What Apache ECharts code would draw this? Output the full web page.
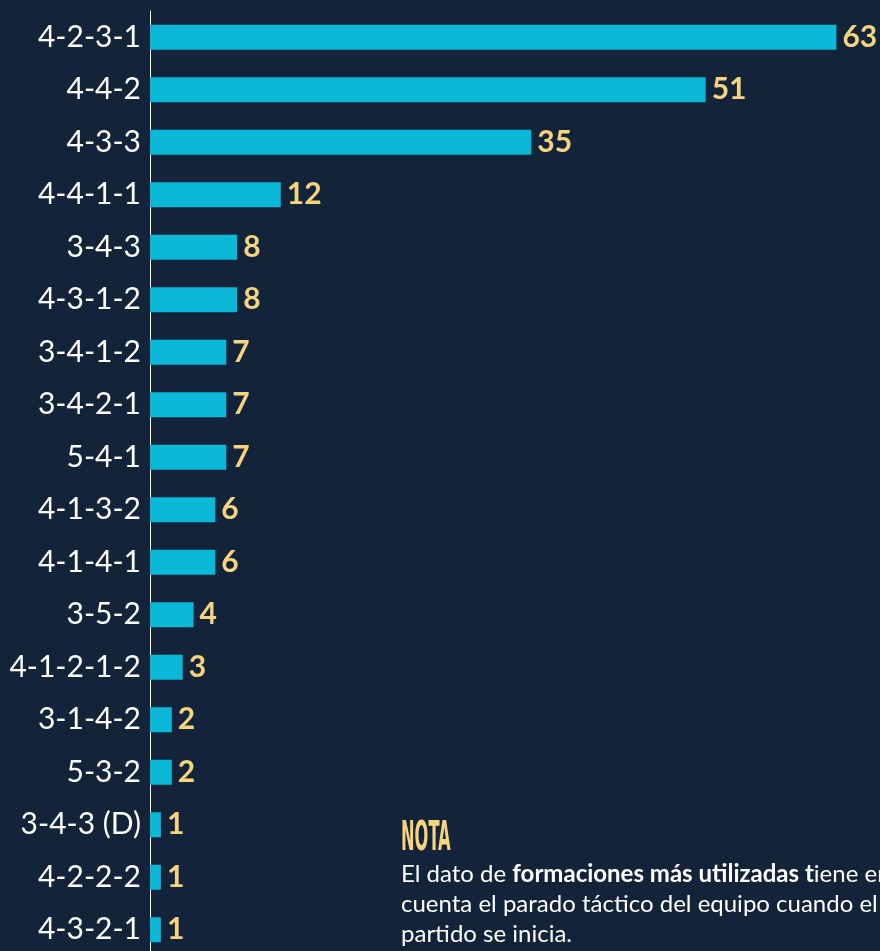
<!DOCTYPE html>
<html>
<head>
<meta charset="utf-8">
<script src="https://cdn.jsdelivr.net/npm/echarts@6/dist/echarts.min.js"></script>
<style>
  html, body { margin: 0; padding: 0; background: #13233a; }
  #chart { width: 880px; height: 951px; }
</style>
</head>
<body>
<div id="chart"></div>
<script>
  // formaciones y cantidad de partidos
  const formaciones = ['4-2-3-1', '4-4-2', '4-3-3', '4-4-1-1', '3-4-3', '4-3-1-2', '3-4-1-2', '3-4-2-1',
    '5-4-1', '4-1-3-2', '4-1-4-1', '3-5-2', '4-1-2-1-2', '3-1-4-2', '5-3-2', '3-4-3 (D)', '4-2-2-2', '4-3-2-1']
  const partidos = [63, 51, 35, 12, 8, 8, 7, 7, 7, 6, 6, 4, 3, 2, 2, 1, 1, 1]

  const chart = echarts.init(document.getElementById('chart'))
  chart.setOption({
    backgroundColor: '#13233a',
    animation: false,
    grid: { left: 150, right: 0, top: 11, height: 945, outerBoundsMode: 'none' },
    xAxis: {
      type: 'value',
      min: 0,
      max: 67,
      show: false
    },
    yAxis: {
      type: 'category',
      inverse: true,
      data: formaciones,
      axisLine: { show: true, lineStyle: { color: '#ffffff', width: 1 } },
      axisTick: { show: false },
      axisLabel: { color: '#ffffff', fontFamily: 'Lato', fontSize: 30, margin: 9 }
    },
    series: [
      {
        type: 'bar',
        data: partidos,
        barWidth: 25,
        itemStyle: { color: '#0bb8d8' },
        label: {
          show: true,
          position: 'right',
          distance: 6,
          color: '#f5d47d',
          fontFamily: 'Lato',
          fontWeight: 'bold',
          fontSize: 30
        }
      }
    ],
    graphic: [
      {
        type: 'text',
        left: 401,
        top: 819,
        scaleX: 0.44,
        style: {
          text: 'NOTA',
          fill: '#f5d47d',
          font: 'bold 41px "DejaVu Sans Condensed", "Liberation Sans Narrow", sans-serif'
        }
      },
      {
        type: 'text',
        left: 401,
        top: 859,
        style: {
          text: 'El dato de {b|formaciones más utilizadas t}iene en\ncuenta el parado táctico del equipo cuando el\npartido se inicia.',
          fill: '#ffffff',
          fontFamily: 'Lato',
          fontSize: 24,
          lineHeight: 30,
          rich: {
            b: { fontFamily: 'Lato', fontWeight: 'bold', fontSize: 24, fill: '#ffffff', lineHeight: 30 }
          }
        }
      }
    ]
  })
</script>
</body>
</html>
